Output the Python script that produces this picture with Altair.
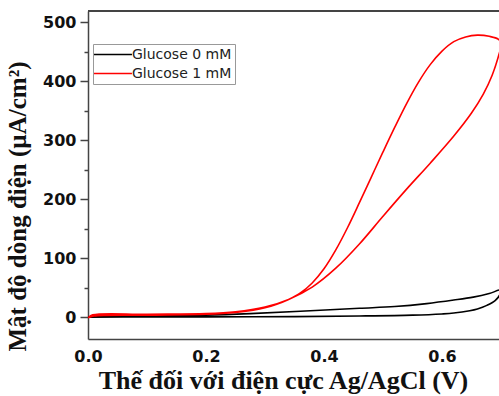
import altair as alt
import pandas as pd

# Cyclic voltammetry scans: forward sweep 0 -> 0.7 V, then reverse sweep back to 0 V
v_blank = [0.0, 0.01, 0.1, 0.2, 0.275, 0.36, 0.46, 0.52, 0.574, 0.62, 0.653, 0.68, 0.7,
           0.698, 0.69, 0.676, 0.66, 0.647, 0.62, 0.6, 0.55, 0.46, 0.35, 0.2, 0.1, 0.0]
i_blank = [0, 2, 2.5, 3.5, 6, 10, 15, 18, 23, 29, 34, 40, 46,
           38, 28, 20, 14, 11, 7, 5.5, 3.5, 2, 1, 0.5, 0.3, 0]

v_glucose = [0.0, 0.008, 0.1, 0.2, 0.25, 0.30, 0.34, 0.38, 0.42, 0.46, 0.50, 0.54,
             0.58, 0.62, 0.65, 0.67, 0.685, 0.697, 0.7,
             0.697, 0.68, 0.66, 0.64, 0.62, 0.60, 0.58, 0.56, 0.54, 0.52, 0.50, 0.48,
             0.46, 0.44, 0.42, 0.40, 0.38, 0.36, 0.34, 0.32, 0.30, 0.28, 0.25,
             0.2, 0.1, 0.01, 0.0]
i_glucose = [-1, 4, 5, 6, 9, 17, 30, 51, 83, 124, 171, 217,
             261, 307, 346, 378, 410, 447, 460,
             470, 476, 478, 475, 467, 451, 428, 398, 362, 322, 280, 237,
             194, 152, 114, 82, 58, 41, 30, 22, 16, 12, 8,
             5, 3.5, 2, -1]

series_names = ["Glucose 0 mM", "Glucose 1 mM"]
series_colors = ["#000000", "#ff0000"]

x_ticks = [0.0, 0.2, 0.4, 0.6]
y_ticks = [0, 50, 100, 150, 200, 250, 300, 350, 400, 450, 500]

rows = []
for name, vs, cs in [(series_names[0], v_blank, i_blank), (series_names[1], v_glucose, i_glucose)]:
    for k, (v, c) in enumerate(zip(vs, cs)):
        rows.append({"series": name, "E": v, "J": c, "step": k})
df = pd.DataFrame(rows)

W, H = 411, 328
AXIS_COLOR = "#444444"

x_enc = alt.X(
    "E:Q",
    scale=alt.Scale(domain=[0, 0.6966], nice=False, zero=False),
    axis=alt.Axis(
        values=x_ticks, format=".1f", ticks=False, grid=False,
        domainColor=AXIS_COLOR, domainWidth=1.5,
        labelFont="DejaVu Sans", labelFontWeight="bold", labelFontSize=16,
        labelColor="#111111", labelPadding=9, labelFlush=False,
        title="Thế đối với điện cực Ag/AgCl (V)",
        titleFont="Liberation Serif", titleFontWeight="bold", titleFontSize=26,
        titleColor="#111111", titleX=195, titleY=49, titleBaseline="alphabetic",
        titleAnchor="middle",
    ),
)
y_enc = alt.Y(
    "J:Q",
    scale=alt.Scale(domain=[-37, 518.9], nice=False, zero=False),
    axis=alt.Axis(
        values=y_ticks, grid=False,
        labelExpr="datum.value % 100 === 0 ? datum.label : ''",
        tickSize={"condition": {"test": "datum.value % 100 === 0", "value": 8}, "value": 4},
        tickColor=AXIS_COLOR, tickWidth=1.5,
        domainColor=AXIS_COLOR, domainWidth=1.5,
        labelFont="DejaVu Sans", labelFontWeight="bold", labelFontSize=16,
        labelColor="#111111", labelPadding=4,
        title="Mật độ dòng điện (µA/cm²)",
        titleFont="Liberation Serif", titleFontWeight="bold", titleFontSize=25,
        titleColor="#111111", titleX=-58, titleY=195, titleBaseline="bottom",
        titleAngle=-90, titleAnchor="middle",
    ),
)

curves = alt.Chart(df).mark_line(strokeWidth=1.6, clip=True, interpolate="catmull-rom").encode(
    x=x_enc,
    y=y_enc,
    order="step:Q",
    detail="series:N",
    color=alt.Color(
        "series:N",
        scale=alt.Scale(domain=series_names, range=series_colors),
        legend=alt.Legend(
            title=None, orient="none", legendX=5, legendY=33,
            symbolType="M-1.5,0H4.5", symbolSize=160, symbolStrokeWidth=1.5,
            labelOffset=21, labelFont="DejaVu Sans", labelFontSize=14,
            labelColor="#222222", rowPadding=4, padding=3,
            strokeColor="#999999", fillColor="white", cornerRadius=0,
        ),
    ),
)

top_border = alt.Chart(df).mark_rule(color=AXIS_COLOR, strokeWidth=1.5).encode(
    x=alt.value(0), x2=alt.value(W), y=alt.value(0)
)

chart = (
    alt.layer(curves, top_border)
    .properties(
        width=W, height=H,
        autosize=alt.AutoSizeParams(type="none"),
        padding={"left": 88, "top": 11, "right": 0, "bottom": 57},
        background="white",
    )
    .configure_view(stroke=None)
)

chart.save("out.html", embed_options={"renderer": "svg", "actions": False})
